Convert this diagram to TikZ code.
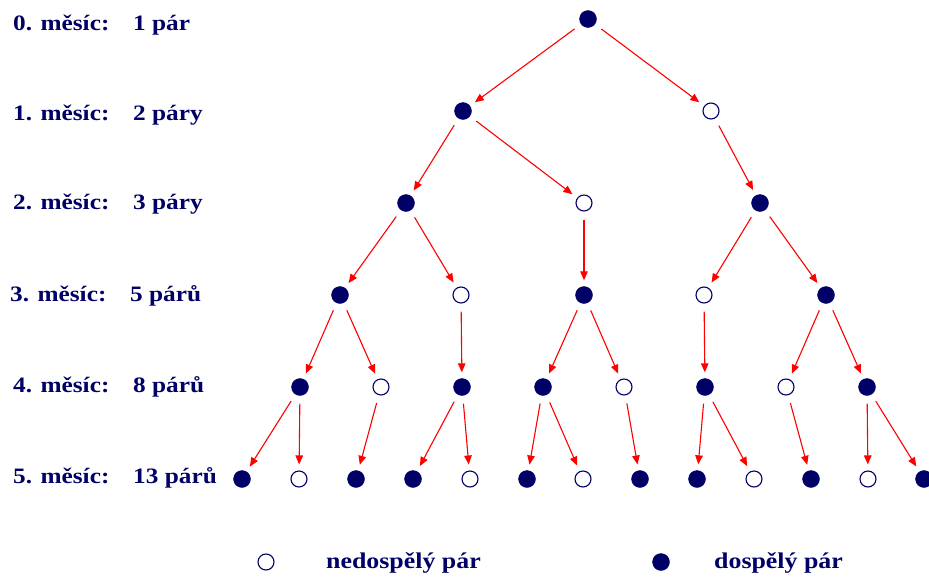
\documentclass[tikz,border=0pt]{standalone}
\usepackage{fontspec}
\setmainfont{Liberation Serif}[FakeStretch=1.15]
\usetikzlibrary{arrows.meta}
\definecolor{navy}{RGB}{0,0,102}
\begin{document}
\begin{tikzpicture}[x=1pt,y=-1pt,
  adult/.style={circle, fill=navy, draw=navy, minimum size=17pt, inner sep=0pt},
  young/.style={circle, draw=navy, line width=1.1pt, fill=white, minimum size=16pt, inner sep=0pt},
  arr/.style={red, line width=1.1pt, -{Triangle[length=9pt,width=7.5pt]}, shorten <=8pt, shorten >=6pt},
  lbl/.style={anchor=base west, inner sep=0pt, text=navy, font=\fontsize{22}{26}\selectfont\bfseries},
  leg/.style={anchor=base west, inner sep=0pt, text=navy, font=\fontsize{22.5}{26}\selectfont\bfseries}]
\useasboundingbox (0,0) rectangle (929,576);
% row labels
\node[lbl] (m0) at (13,30) {0. měsíc:};  \node[lbl] (c0) at (133,30) {1 pár};
\node[lbl] (m1) at (13,120) {1. měsíc:}; \node[lbl] (c1) at (133,120) {2 páry};
\node[lbl] (m2) at (13,209) {2. měsíc:}; \node[lbl] (c2) at (133,209) {3 páry};
\node[lbl] (m3) at (10,301) {3. měsíc:}; \node[lbl] (c3) at (130,301) {5 párů};
\node[lbl] (m4) at (13,392) {4. měsíc:}; \node[lbl] (c4) at (133,392) {8 párů};
\node[lbl] (m5) at (13,483) {5. měsíc:}; \node[lbl] (c5) at (133,483) {13 párů};
% tree nodes
\node[adult] (r0a) at (588,19) {};
\node[adult] (r1a) at (463,111) {};
\node[young] (r1b) at (711,111) {};
\node[adult] (r2a) at (406,203) {};
\node[young] (r2b) at (584,203) {};
\node[adult] (r2c) at (760,203) {};
\node[adult] (r3a) at (340,295) {};
\node[young] (r3b) at (461,295) {};
\node[adult] (r3c) at (584,295) {};
\node[young] (r3d) at (704,295) {};
\node[adult] (r3e) at (826,295) {};
\node[adult] (r4a) at (300,387) {};
\node[young] (r4b) at (381,387) {};
\node[adult] (r4c) at (462,387) {};
\node[adult] (r4d) at (543,387) {};
\node[young] (r4e) at (624,387) {};
\node[adult] (r4f) at (705,387) {};
\node[young] (r4g) at (786,387) {};
\node[adult] (r4h) at (867,387) {};
\node[adult] (r5a) at (242,479) {};
\node[young] (r5b) at (299,479) {};
\node[adult] (r5c) at (356,479) {};
\node[adult] (r5d) at (413,479) {};
\node[young] (r5e) at (470,479) {};
\node[adult] (r5f) at (527,479) {};
\node[young] (r5g) at (583,479) {};
\node[adult] (r5h) at (640,479) {};
\node[adult] (r5i) at (697,479) {};
\node[young] (r5j) at (754,479) {};
\node[adult] (r5k) at (811,479) {};
\node[young] (r5l) at (868,479) {};
\node[adult] (r5m) at (924,479) {};
% arrows
\foreach \s/\t in {r0a/r1a, r0a/r1b,
  r1a/r2a, r1a/r2b, r1b/r2c,
  r2a/r3a, r2a/r3b, r2b/r3c, r2c/r3d, r2c/r3e,
  r3a/r4a, r3a/r4b, r3b/r4c, r3c/r4d, r3c/r4e, r3d/r4f, r3e/r4g, r3e/r4h,
  r4a/r5a, r4a/r5b, r4b/r5c, r4c/r5d, r4c/r5e, r4d/r5f, r4d/r5g, r4e/r5h,
  r4f/r5i, r4f/r5j, r4g/r5k, r4h/r5l, r4h/r5m}
  \draw[arr] (\s) -- (\t);
% legend
\node[young] (ly) at (266,562) {};
\node[leg] (lyt) at (326,568) {nedospělý pár};
\node[adult] (la) at (661,562) {};
\node[leg] (lat) at (714,568) {dospělý pár};
\end{tikzpicture}
\end{document}
